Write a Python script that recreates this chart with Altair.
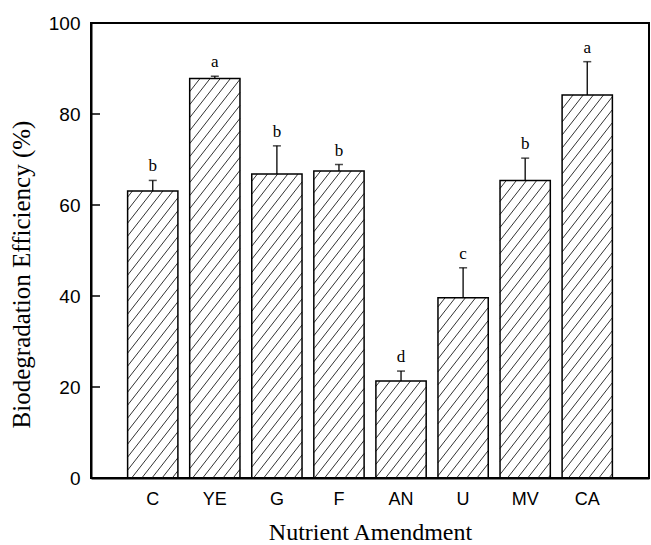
import math
import altair as alt
import pandas as pd

# ---- data ----
categories = ["C", "YE", "G", "F", "AN", "U", "MV", "CA"]
efficiency = [63.1, 87.8, 66.8, 67.5, 21.3, 39.6, 65.4, 84.2]
error_up = [2.3, 0.5, 6.2, 1.4, 2.2, 6.6, 4.9, 7.3]
letters = ["b", "a", "b", "b", "d", "c", "b", "a"]
y_ticks = [0, 20, 40, 60, 80, 100]

# ---- layout / style ----
W, H = 558, 455
PAD_IN, PAD_OUT = 0.19, 0.59
HATCH_ANGLE = 52.0   # degrees
HATCH_GAP = 13.0     # vertical spacing in px

df = pd.DataFrame({
    "cat": categories,
    "value": efficiency,
    "top": [v + e for v, e in zip(efficiency, error_up)],
    "letter": letters,
})

# hatch segments, computed from the bar values and the band layout
n = len(categories)
span = n - PAD_IN + 2 * PAD_OUT
step = W / span
k = math.tan(math.radians(HATCH_ANGLE))
rows = []
for i, v in enumerate(efficiency):
    px0 = (PAD_OUT + i) * step
    px1 = px0 + (1 - PAD_IN) * step
    ptop = H * (1 - v / 100.0)
    pbot = H
    jmin = int(math.floor((ptop + k * px0) / HATCH_GAP)) - 1
    jmax = int(math.ceil((pbot + k * px1) / HATCH_GAP)) + 1
    for j in range(jmin, jmax + 1):
        b = j * HATCH_GAP
        lo = max(px0, (b - pbot) / k)
        hi = min(px1, (b - ptop) / k)
        if hi - lo > 0.3:
            rows.append({
                "hx1": lo / step, "hx2": hi / step,
                "hy1": 100 * (1 - (b - k * lo) / H),
                "hy2": 100 * (1 - (b - k * hi) / H),
            })
hatch_df = pd.DataFrame(rows)

y_scale = alt.Scale(domain=[0, 100], nice=False, zero=True)
y_axis = alt.Axis(
    values=y_ticks, ticks=False, tickSize=0, grid=False,
    labelFont="Liberation Sans", labelFontSize=19, labelColor="black", labelPadding=11,
    domainColor="black", domainWidth=2,
    title="Biodegradation Efficiency (%)", titleFont="Liberation Serif",
    titleFontSize=25, titleFontWeight="normal", titleColor="black",
    titleAngle=270, titleX=-62, titleY=251, titleAlign="center", titleBaseline="alphabetic",
)
x_band = alt.Scale(domain=categories, paddingInner=PAD_IN, paddingOuter=PAD_OUT)
x_axis = alt.Axis(
    ticks=False, tickSize=0, labelAngle=0, grid=False,
    labelFont="Liberation Sans", labelFontSize=18, labelColor="black", labelPadding=12,
    domainColor="black", domainWidth=2,
    title="Nutrient Amendment", titleFont="Liberation Serif", titleFontSize=24,
    titleFontWeight="normal", titleColor="black", titleY=61, titleBaseline="alphabetic",
)

hatch = alt.Chart(hatch_df).mark_rule(color="#333333", strokeWidth=1).encode(
    x=alt.X("hx1:Q", scale=alt.Scale(domain=[0, span], nice=False, zero=False), axis=None),
    x2="hx2:Q",
    y=alt.Y("hy1:Q", scale=y_scale, axis=y_axis),
    y2="hy2:Q",
)

base = alt.Chart(df)
bars = base.mark_bar(fill="white", fillOpacity=0, stroke="black", strokeWidth=1.5).encode(
    x=alt.X("cat:N", sort=categories, scale=x_band, axis=x_axis),
    y=alt.Y("value:Q", scale=y_scale, axis=y_axis),
)
err = base.mark_rule(color="black", strokeWidth=1.3).encode(
    x=alt.X("cat:N", sort=categories),
    y=alt.Y("value:Q"),
    y2="top:Q",
)
cap = base.mark_tick(color="black", size=8, thickness=1.5).encode(
    x=alt.X("cat:N", sort=categories),
    y=alt.Y("top:Q"),
)
txt = base.mark_text(font="Liberation Serif", fontSize=17, color="black",
                     baseline="alphabetic", dy=-9).encode(
    x=alt.X("cat:N", sort=categories),
    y=alt.Y("top:Q"),
    text="letter:N",
)
inner_ticks = alt.Chart(pd.DataFrame({"t": y_ticks[1:-1]})).mark_rule(
    color="black", strokeWidth=1.5).encode(
    y=alt.Y("t:Q"),
    x=alt.value(0),
    x2=alt.value(9),
)

main = alt.layer(bars, err, cap, txt, inner_ticks)

chart = alt.layer(hatch, main).resolve_scale(x="independent").properties(
    width=W, height=H,
    autosize=alt.AutoSizeParams(type="none"),
    padding={"left": 91, "top": 23, "right": 2, "bottom": 67},
    background="white",
).configure_view(stroke="black", strokeWidth=2)

chart.save("out.html", embed_options={"renderer": "svg", "actions": False})
